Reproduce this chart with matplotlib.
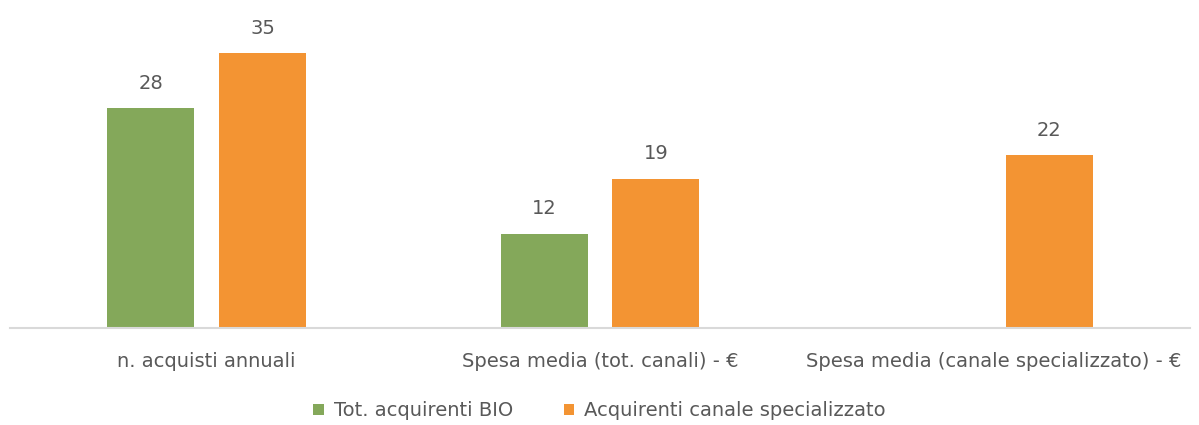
import matplotlib.pyplot as plt
import numpy as np

categories = ['n. acquisti annuali', 'Spesa media (tot. canali) - €',
              'Spesa media (canale specializzato) - €']
tot_bio = [28, 12, np.nan]
canale_spec = [35, 19, 22]
series_names = ['Tot. acquirenti BIO', 'Acquirenti canale specializzato']

green = '#84A85A'
orange = '#F39433'
txt = '#595959'

plt.rcParams['font.family'] = ['DejaVu Sans']

fig = plt.figure(figsize=(11.99, 4.25), dpi=100)
ax = fig.add_axes([10 / 1199, 1 - 328 / 425, 1180 / 1199, 328 / 425])

x = np.arange(len(categories))
w = 0.221
off = 0.142
b1 = ax.bar(x - off, tot_bio, w, color=green, label=series_names[0])
b2 = ax.bar(x + off, canale_spec, w, color=orange, label=series_names[1])

for bars, vals in ((b1, tot_bio), (b2, canale_spec)):
    for rect, v in zip(bars, vals):
        if np.isnan(v):
            continue
        ax.annotate('%d' % v, (rect.get_x() + rect.get_width() / 2, v),
                    xytext=(0, 11), textcoords='offset points',
                    ha='center', va='bottom', fontsize=14, color=txt)

ax.set_xlim(-0.5, 2.5)
ax.set_ylim(0, 328 / 7.857)
ax.set_xticks(x)
ax.set_xticklabels(categories, fontsize=14, color=txt)
ax.tick_params(axis='x', length=0, pad=17)
ax.set_yticks([])
for s in ['top', 'right', 'left']:
    ax.spines[s].set_visible(False)
ax.spines['bottom'].set_color('#D9D9D9')
ax.spines['bottom'].set_linewidth(1.5)

leg = fig.legend(handles=[b1, b2], loc='center', bbox_to_anchor=(0.5, 1 - 411 / 425),
                 ncol=2, frameon=False, fontsize=14, handlelength=0.55,
                 handleheight=0.55, handletextpad=0.5, columnspacing=2.6)
for t in leg.get_texts():
    t.set_color(txt)

fig.savefig('out.png', dpi=100)
